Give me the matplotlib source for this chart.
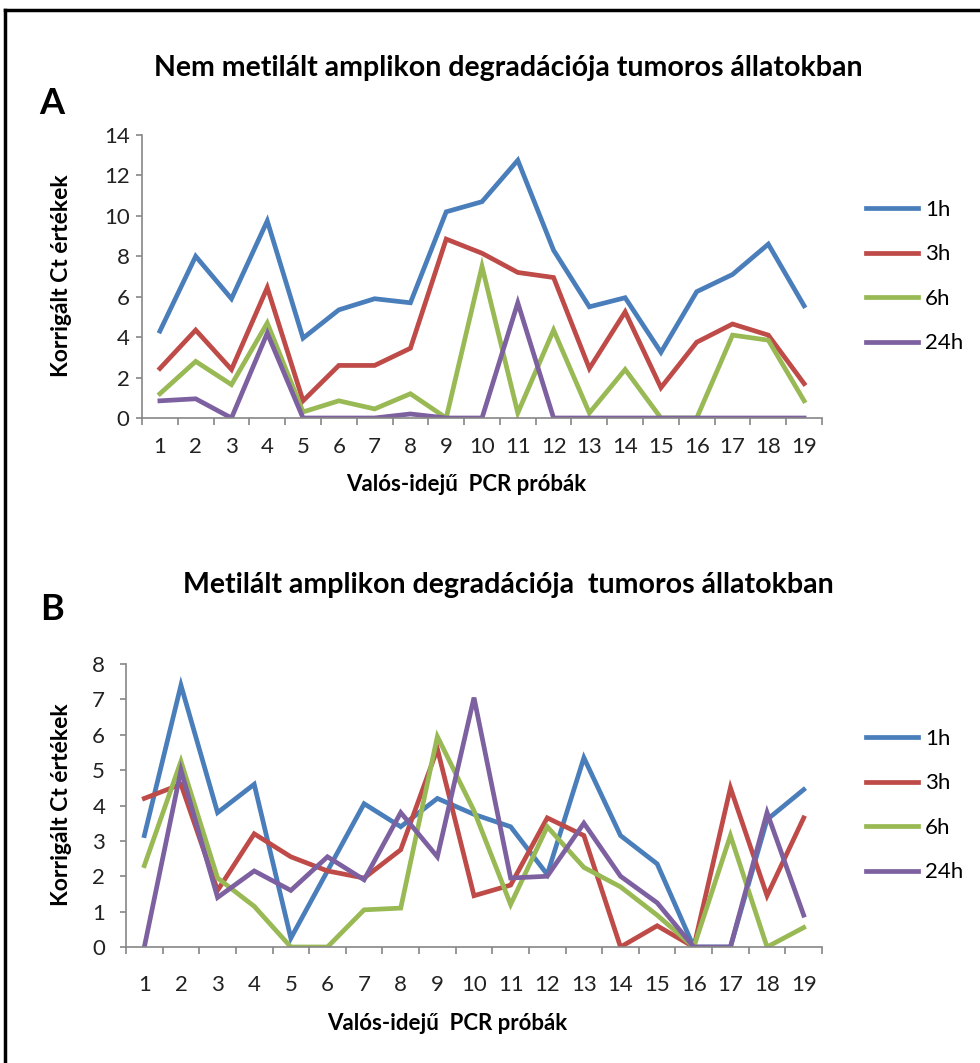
import matplotlib
matplotlib.use('Agg')
import matplotlib.pyplot as plt
from matplotlib.lines import Line2D
from matplotlib.ticker import FixedLocator

plt.rcParams['font.family'] = ['Lato', 'DejaVu Sans']

# Adatok
probak = list(range(1, 20))
idopontok = ['1h', '3h', '6h', '24h']
szinek = ['#4A7EBB', '#BE4B48', '#98B954', '#7D60A0']

# A: nem metilált amplikon
nem_1h = [4.3, 8.0, 5.9, 9.75, 3.95, 5.35, 5.9, 5.7, 10.2, 10.7, 12.75, 8.3, 5.5, 5.95, 3.25, 6.25, 7.1, 8.6, 5.55]
nem_3h = [2.45, 4.35, 2.4, 6.45, 0.85, 2.6, 2.6, 3.45, 8.85, 8.15, 7.2, 6.95, 2.45, 5.25, 1.5, 3.75, 4.65, 4.1, 1.7]
nem_6h = [1.2, 2.8, 1.65, 4.7, 0.3, 0.85, 0.45, 1.2, 0.0, 7.5, 0.25, 4.35, 0.25, 2.4, 0.0, 0.0, 4.1, 3.85, 0.85]
nem_24h = [0.85, 0.95, 0.0, 4.2, 0.0, 0.0, 0.0, 0.2, 0.0, 0.0, 5.7, 0.0, 0.0, 0.0, 0.0, 0.0, 0.0, 0.0, 0.0]

# B: metilált amplikon
met_1h = [3.15, 7.4, 3.8, 4.6, 0.25, 2.15, 4.05, 3.4, 4.2, 3.75, 3.4, 2.05, 5.35, 3.15, 2.35, 0.0, 0.0, 3.6, 4.45]
met_3h = [4.2, 4.6, 1.6, 3.2, 2.55, 2.15, 1.95, 2.75, 5.6, 1.45, 1.75, 3.65, 3.15, 0.0, 0.6, 0.0, 4.5, 1.45, 3.65]
met_6h = [2.3, 5.25, 1.95, 1.15, 0.0, 0.0, 1.05, 1.1, 5.95, 3.85, 1.2, 3.4, 2.25, 1.7, 0.9, 0.0, 3.15, 0.0, 0.55]
met_24h = [0.0, 5.0, 1.4, 2.15, 1.6, 2.55, 1.9, 3.8, 2.55, 7.05, 1.95, 2.0, 3.5, 2.0, 1.25, 0.0, 0.0, 3.8, 0.9]

W, H = 980, 1063
fig = plt.figure(figsize=(W / 100, H / 100), dpi=100)


def px_axes(left, top, right, bottom):
    return fig.add_axes([left / W, 1 - bottom / H, (right - left) / W, (bottom - top) / H])


def rajzol(ax, sorok, ymax, xpad, ypad, leg_top):
    for adat, nev, szin in zip(sorok, idopontok, szinek):
        ax.plot(probak, adat, color=szin, lw=3.4, label=nev, solid_joinstyle='miter')
    ax.set_xlim(0.5, 19.5)
    ax.set_ylim(0, ymax)
    for s in ['top', 'right']:
        ax.spines[s].set_visible(False)
    for s in ['left', 'bottom']:
        ax.spines[s].set_color('#868686')
        ax.spines[s].set_linewidth(1.2)
    ax.set_xticks(probak)
    ax.xaxis.set_minor_locator(FixedLocator([i + 0.5 for i in range(0, 20)]))
    ax.tick_params(axis='x', which='major', length=0, pad=xpad, labelsize=16, colors='#222222')
    ax.tick_params(axis='x', which='minor', length=5, width=1.2, color='#868686', direction='out')
    ax.tick_params(axis='y', length=4, width=1.2, color='#868686', pad=ypad, labelsize=16, labelcolor='#222222')
    ax.legend(loc='upper left', bbox_to_anchor=(866 / W, 1 - leg_top / H), bbox_transform=fig.transFigure,
              frameon=False, fontsize=16, handlelength=2.35, handletextpad=0.3, labelspacing=1.1,
              borderpad=0, borderaxespad=0)


ax1 = px_axes(142, 135, 822, 418)
rajzol(ax1, [nem_1h, nem_3h, nem_6h, nem_24h], 14, 14, 5, 200)
ax1.set_yticks(range(0, 15, 2))

ax2 = px_axes(126, 664, 822, 947)
rajzol(ax2, [met_1h, met_3h, met_6h, met_24h], 8, 20, 11, 729)
ax2.set_yticks(range(0, 9))

# tengelyfeliratok
for y in [276, 805]:
    fig.text(62 / W, 1 - y / H, 'Korrigált Ct értékek', rotation=90, ha='center', va='center',
             fontsize=16.5, fontweight='bold')
fig.text(466 / W, 1 - 484 / H, 'Valós-idejű  PCR próbák', ha='center', va='center', fontsize=16, fontweight='bold')
fig.text(447 / W, 1 - 1024 / H, 'Valós-idejű  PCR próbák', ha='center', va='center', fontsize=16, fontweight='bold')

# címek
fig.text(508 / W, 1 - 68 / H, 'Nem metilált amplikon degradációja tumoros állatokban', ha='center', va='center',
         fontsize=20.5, fontweight='bold')
fig.text(508 / W, 1 - 585 / H, 'Metilált amplikon degradációja  tumoros állatokban', ha='center', va='center',
         fontsize=20.5, fontweight='bold')
fig.text(52 / W, 1 - 104 / H, 'A', ha='center', va='center', fontsize=26, fontweight='bold')
fig.text(52 / W, 1 - 609 / H, 'B', ha='center', va='center', fontsize=26, fontweight='bold')

# keret
fig.add_artist(Line2D([5 / W, 1], [1 - 10 / H, 1 - 10 / H], color='black', lw=2.5, transform=fig.transFigure))
fig.add_artist(Line2D([5 / W, 5 / W], [1 - 10 / H, 0], color='black', lw=2.5, transform=fig.transFigure))

fig.savefig('out.png', dpi=100)
